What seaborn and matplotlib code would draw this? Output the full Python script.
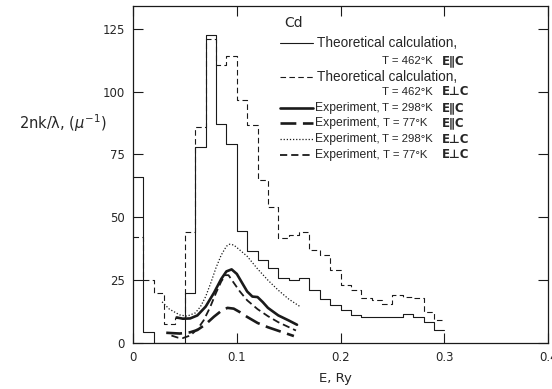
import numpy as np
import matplotlib
matplotlib.use('Agg')
import matplotlib.pyplot as plt
import seaborn as sns

# Histogram bin edges (E, Ry) for the theoretical calculations
bin_edges = [0.00, 0.01, 0.02, 0.03, 0.04, 0.05, 0.06, 0.07, 0.08, 0.09,
             0.10, 0.11, 0.12, 0.13, 0.14, 0.15, 0.16, 0.17, 0.18, 0.19,
             0.20, 0.21, 0.22, 0.23, 0.24, 0.25, 0.26, 0.27, 0.28, 0.29, 0.30]

# Theoretical calculation, T = 462 K, E || C
theory_par = [66, 4.4, 0, 0, 0, 20, 78, 122.5, 87, 79,
              44.5, 36.5, 33, 30, 26, 25, 26, 21, 17.5, 15,
              13, 11.3, 10.4, 10.4, 10.4, 10.4, 11.5, 10.2, 8.5, 5.4]
# Theoretical calculation, T = 462 K, E perp C
theory_perp = [42, 25, 20, 7.5, 10, 44, 86, 121, 110.5, 114,
               96.5, 86.5, 65, 54, 41.6, 43, 44, 37, 35, 29,
               23, 21, 18, 17, 15.5, 19, 18.4, 18, 12.4, 9]

# Experiment, T = 298 K, E || C
exp298_par_e = [0.042, 0.048, 0.055, 0.062, 0.070, 0.078, 0.085, 0.090, 0.095, 0.100,
                0.105, 0.110, 0.115, 0.120, 0.125, 0.130, 0.140, 0.150, 0.158]
exp298_par_k = [10.2, 9.7, 9.8, 11, 14.5, 20, 25.5, 28.5, 29.3, 27.5,
                24, 20.5, 18.5, 18.3, 16.3, 14, 11, 9, 7.3]

# Experiment, T = 77 K, E || C
exp77_par_e = [0.032, 0.045, 0.055, 0.062, 0.070, 0.078, 0.085, 0.091, 0.097, 0.103,
               0.110, 0.120, 0.130, 0.140, 0.155]
exp77_par_k = [4.1, 3.8, 4.3, 5.2, 7.5, 10.5, 12.8, 14, 13.7, 12.3,
               10.4, 8, 6.3, 4.9, 2.8]

# Experiment, T = 298 K, E perp C
exp298_perp_e = [0.028, 0.035, 0.045, 0.052, 0.060, 0.065, 0.070, 0.075, 0.080, 0.085,
                 0.090, 0.093, 0.097, 0.100, 0.110, 0.120, 0.130, 0.140, 0.150, 0.161]
exp298_perp_k = [16.4, 13.5, 11.2, 10.7, 12, 14.5, 18.5, 24, 30, 35,
                 38.5, 39.3, 39, 38, 34.5, 29.5, 25, 21, 17.5, 14.5]

# Experiment, T = 77 K, E perp C
exp77_perp_e = [0.037, 0.043, 0.048, 0.055, 0.062, 0.068, 0.074, 0.080, 0.085, 0.089,
                0.092, 0.097, 0.103, 0.110, 0.120, 0.130, 0.140, 0.157]
exp77_perp_k = [3.0, 2.2, 2.0, 3.0, 5.5, 9, 14, 20, 24.5, 27,
                27, 24, 20.5, 17, 13.5, 10.7, 8.3, 5]

x_ticks = [0, 0.1, 0.2, 0.3, 0.4]
x_ticklabels = ['0', '0.1', '0.2', '0.3', '0.4']
y_ticks = [0, 25, 50, 75, 100, 125]

sns.set_style('ticks')
plt.rcParams['font.family'] = ['DejaVu Sans']
plt.rcParams['mathtext.fontset'] = 'dejavusans'
leg_font = ['Liberation Sans', 'DejaVu Sans']

ink = '#1a1a1a'
fig = plt.figure(figsize=(5.52, 3.89), dpi=100)
ax = fig.add_axes([0.241, 0.118, 0.752, 0.8666])

# step histograms (last value repeated to close the final bin)
sns.lineplot(x=bin_edges, y=theory_par + [theory_par[-1]], ax=ax, color=ink,
             lw=0.8, drawstyle='steps-post', estimator=None, sort=False)
sns.lineplot(x=bin_edges, y=theory_perp + [theory_perp[-1]], ax=ax, color=ink,
             lw=0.8, linestyle=(0, (5, 3)), drawstyle='steps-post', estimator=None, sort=False)

# experimental curves
sns.lineplot(x=exp298_par_e, y=exp298_par_k, ax=ax, color=ink, lw=1.9, estimator=None)
sns.lineplot(x=exp77_par_e, y=exp77_par_k, ax=ax, color=ink, lw=1.9,
             linestyle=(0, (6, 2.5)), estimator=None)
sns.lineplot(x=exp298_perp_e, y=exp298_perp_k, ax=ax, color=ink, lw=0.9,
             linestyle=(0, (1, 1.5)), estimator=None)
sns.lineplot(x=exp77_perp_e, y=exp77_perp_k, ax=ax, color=ink, lw=1.3,
             linestyle=(0, (4, 2.2)), estimator=None)

ax.set_xlim(0, 0.4)
ax.set_ylim(0, 134)
ax.set_xticks(x_ticks)
ax.set_xticklabels(x_ticklabels)
ax.set_yticks(y_ticks)
ax.tick_params(direction='in', length=7, width=0.8, color=ink, labelsize=8.5,
               top=True, right=True, labeltop=False, labelright=False, pad=6)
for sp in ax.spines.values():
    sp.set_linewidth(0.9)
    sp.set_color(ink)

ax.set_xlabel('E, Ry', fontsize=9.5)
ax.xaxis.set_label_coords(0.487, -0.086)
ax.set_ylabel(r'2nk/λ, ($\mu^{-1}$)', fontsize=10.5, rotation=0, ha='center', va='center')
ax.yaxis.set_label_coords(-0.169, 0.653)

# hand-made legend, as in the original figure
ax.text(0.386, 0.950, 'Cd', fontsize=10, ha='center', va='center', transform=ax.transAxes)
rows = [0.890, 0.837, 0.789, 0.745, 0.697, 0.653, 0.605, 0.558]
styles = [dict(lw=0.8), dict(lw=0.8, linestyle=(0, (5, 3))), dict(lw=1.9),
          dict(lw=1.9, linestyle=(0, (6, 2.5))), dict(lw=0.9, linestyle=(0, (1, 1.5))),
          dict(lw=1.3, linestyle=(0, (4, 2.2)))]
handle_rows = [rows[0], rows[2], rows[4], rows[5], rows[6], rows[7]]
for yy, st in zip(handle_rows, styles):
    ax.plot([0.354, 0.434], [yy, yy], color=ink, transform=ax.transAxes, **st)

for yy in (rows[0], rows[2]):
    ax.text(0.443, yy, 'Theoretical calculation,', fontsize=9.8, family=leg_font,
            va='center', transform=ax.transAxes)
for yy in rows[4:]:
    ax.text(0.439, yy, 'Experiment,', fontsize=8.7, family=leg_font,
            va='center', transform=ax.transAxes)

temps = ['T = 462°K', 'T = 462°K', 'T = 298°K', 'T = 77°K', 'T = 298°K', 'T = 77°K']
temp_right = [0.723, 0.723, 0.723, 0.708, 0.723, 0.708]
pol = ['E∥C', 'E⊥C', 'E∥C', 'E∥C', 'E⊥C', 'E⊥C']
for yy, t, xr, p in zip([rows[1], rows[3]] + rows[4:], temps, temp_right, pol):
    ax.text(xr, yy, t, fontsize=8.2, family=leg_font, ha='right', va='center',
            transform=ax.transAxes)
    ax.text(0.745, yy, p, fontsize=8.5, fontweight='bold', va='center', transform=ax.transAxes)

fig.savefig('out.png', dpi=100)
